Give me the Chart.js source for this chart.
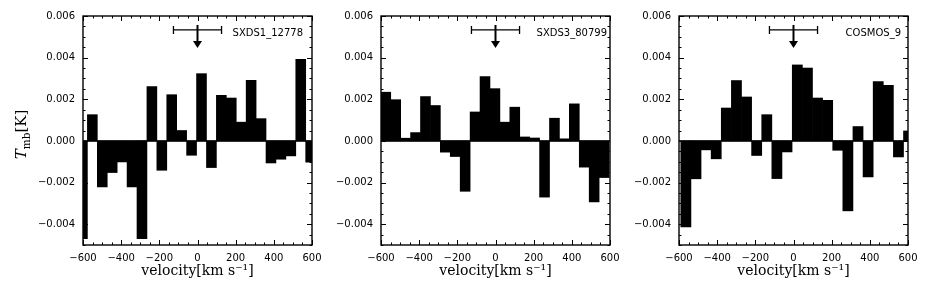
<!DOCTYPE html>
<html>
<head>
<meta charset="utf-8">
<script src="https://cdn.jsdelivr.net/npm/chart.js@4/dist/chart.umd.min.js"></script>
<style>
  html, body { margin: 0; padding: 0; background: #fff; }
  #wrap { position: relative; width: 926px; height: 290px; overflow: hidden; }
  canvas { position: absolute; top: 0; }
</style>
</head>
<body>
<div id="wrap">
  <canvas id="panel1" width="330" height="290" style="left:0px"></canvas>
  <canvas id="panel2" width="330" height="290" style="left:298px"></canvas>
  <canvas id="panel3" width="330" height="290" style="left:596px"></canvas>
</div>
<script>
var names = ['SXDS1_12778', 'SXDS3_80799', 'COSMOS_9'];

// channel centres (km/s) and T_mb (K) for each source
var vel1 = [-603, -551, -499, -447, -395, -343, -291, -239, -187, -135, -83, -31, 21, 73, 125, 177, 229, 281, 333, 385, 437, 489, 541, 593];
var tmb1 = [-0.0047, 0.00126, -0.00221, -0.00152, -0.00101, -0.00221, -0.00469, 0.00261, -0.00141, 0.00222, 0.0005, -0.00069, 0.00323, -0.00128, 0.00219, 0.00206, 0.0009, 0.00291, 0.00107, -0.00106, -0.00088, -0.00072, 0.00392, -0.00102];

var vel2 = [-575, -523, -471, -419, -367, -315, -263, -211, -159, -107, -55, -3, 49, 101, 153, 205, 257, 309, 361, 413, 465, 517, 569];
var tmb2 = [0.00234, 0.00198, 0.00013, 0.0004, 0.00213, 0.0017, -0.00054, -0.00075, -0.00242, 0.00139, 0.00309, 0.00251, 0.0009, 0.00162, 0.00019, 0.00014, -0.0027, 0.00109, 0.0001, 0.00178, -0.00126, -0.00293, -0.00176];

var vel3 = [-564, -511, -458, -405, -352, -299, -246, -193, -140, -87, -34, 20, 73, 126, 179, 232, 285, 338, 391, 444, 497, 550, 603];
var tmb3 = [-0.00413, -0.00182, -0.00043, -0.00086, 0.00158, 0.0029, 0.00211, -0.0007, 0.00126, -0.00181, -0.00053, 0.00365, 0.0035, 0.00206, 0.00195, -0.00045, -0.00336, 0.00069, -0.00173, 0.00285, 0.00267, -0.00077, 0.00048];

var xTicks = [-600, -400, -200, 0, 200, 400, 600];
var yTicks = [-0.004, -0.002, 0, 0.002, 0.004, 0.006];

// expected line position, width and upper-limit arrow
var lineCentre = 0;
var lineHalfWidth = 126;
var limitBarY = 0.00533;
var arrowTop = 0.00557;
var arrowTip = 0.00446;

function minus(s) {
  return s.replace('-', '\u2212');
}

// frame, inward ticks, zero line, annotations
var framePlugin = {
  id: 'frame',
  afterDatasetsDraw: function (chart, args, opts) {
    var ctx = chart.ctx;
    var a = chart.chartArea;
    var xs = chart.scales.x;
    var ys = chart.scales.y;
    var v, p;

    ctx.save();
    ctx.strokeStyle = '#000';
    ctx.fillStyle = '#000';

    // zero line
    ctx.lineWidth = 1.5;
    p = ys.getPixelForValue(0);
    ctx.beginPath();
    ctx.moveTo(a.left, p);
    ctx.lineTo(a.right, p);
    ctx.stroke();

    // ticks on all four sides
    ctx.lineWidth = 1;
    ctx.beginPath();
    for (v = -600; v <= 600; v += 50) {
      p = Math.round(xs.getPixelForValue(v)) + 0.5;
      var len = (v % 200 === 0) ? 5 : 2.5;
      ctx.moveTo(p, a.bottom); ctx.lineTo(p, a.bottom - len);
      ctx.moveTo(p, a.top); ctx.lineTo(p, a.top + len);
    }
    for (v = -10; v <= 12; v++) {
      p = Math.round(ys.getPixelForValue(v * 0.0005)) + 0.5;
      var l2 = (v % 4 === 0) ? 5 : 2.5;
      ctx.moveTo(a.left, p); ctx.lineTo(a.left + l2, p);
      ctx.moveTo(a.right, p); ctx.lineTo(a.right - l2, p);
    }
    ctx.stroke();

    // spines
    ctx.lineWidth = 1.4;
    ctx.strokeRect(a.left, a.top, a.right - a.left, a.bottom - a.top);

    // line width bar
    var x0 = xs.getPixelForValue(lineCentre - lineHalfWidth);
    var x1 = xs.getPixelForValue(lineCentre + lineHalfWidth);
    var xc = xs.getPixelForValue(lineCentre);
    var yb = ys.getPixelForValue(limitBarY);
    ctx.lineWidth = 1.3;
    ctx.beginPath();
    ctx.moveTo(x0, yb); ctx.lineTo(x1, yb);
    ctx.moveTo(x0, yb - 4); ctx.lineTo(x0, yb + 4);
    ctx.moveTo(x1, yb - 4); ctx.lineTo(x1, yb + 4);
    ctx.stroke();

    // upper limit arrow
    var yt = ys.getPixelForValue(arrowTop);
    var yh = ys.getPixelForValue(arrowTip);
    ctx.lineWidth = 2;
    ctx.beginPath();
    ctx.moveTo(xc, yt); ctx.lineTo(xc, yh - 6);
    ctx.stroke();
    ctx.beginPath();
    ctx.moveTo(xc - 4.5, yh - 7);
    ctx.lineTo(xc + 4.5, yh - 7);
    ctx.lineTo(xc, yh);
    ctx.closePath();
    ctx.fill();

    // source name
    ctx.font = '10px "DejaVu Sans"';
    ctx.textAlign = 'right';
    ctx.textBaseline = 'alphabetic';
    ctx.fillText(opts.name, a.right - opts.gap, a.top + 20);

    // y title with subscript
    if (opts.yTitle) {
      ctx.translate(26, (a.top + a.bottom) / 2 + 4);
      ctx.rotate(-Math.PI / 2);
      var parts = [
        {t: 'T', f: 'italic 15px "DejaVu Serif"', dy: 0},
        {t: 'mb', f: '10.5px "DejaVu Serif"', dy: 3.5},
        {t: '[K]', f: '15px "DejaVu Serif"', dy: 0}
      ];
      var total = 0;
      parts.forEach(function (q) { ctx.font = q.f; q.w = ctx.measureText(q.t).width; total += q.w; });
      var cx = -total / 2;
      ctx.textAlign = 'left';
      parts.forEach(function (q) {
        ctx.font = q.f;
        ctx.fillText(q.t, cx, q.dy);
        cx += q.w;
      });
    }
    ctx.restore();
  }
};

function makePanel(id, vel, tmb, name, gap, yTitle) {
  var points = vel.map(function (v, i) { return {x: v, y: tmb[i]}; });
  return new Chart(document.getElementById(id), {
    type: 'bar',
    data: {
      datasets: [{
        data: points,
        backgroundColor: '#000',
        borderWidth: 0,
        barPercentage: 1,
        categoryPercentage: 1,
        clip: 0
      }]
    },
    options: {
      responsive: false,
      animation: false,
      devicePixelRatio: 1,
      layout: {padding: {left: 0, right: 18, top: 16, bottom: 0}},
      plugins: {
        legend: {display: false},
        tooltip: {enabled: false},
        frame: {name: name, gap: gap, yTitle: yTitle}
      },
      scales: {
        x: {
          type: 'linear',
          min: -600,
          max: 600,
          offset: false,
          grid: {display: false, drawTicks: false},
          border: {display: false},
          afterBuildTicks: function (s) {
            s.ticks = xTicks.map(function (v) { return {value: v}; });
          },
          afterFit: function (s) {
            s.height = 45;
            s.paddingLeft = 0;
            s.paddingRight = 0;
          },
          ticks: {
            color: '#000',
            padding: 7,
            maxRotation: 0,
            autoSkip: false,
            font: {family: 'DejaVu Sans', size: 10},
            callback: function (v) { return minus(String(v)); }
          },
          title: {
            display: true,
            text: 'velocity[km s\u207B\u00B9]',
            color: '#000',
            font: {family: 'DejaVu Serif', size: 14},
            padding: {top: 0, bottom: 10}
          }
        },
        y: {
          type: 'linear',
          min: -0.005,
          max: 0.006,
          grid: {display: false, drawTicks: false},
          border: {display: false},
          afterBuildTicks: function (s) {
            s.ticks = yTicks.map(function (v) { return {value: v}; });
          },
          afterFit: function (s) {
            s.width = 83;
            s.paddingTop = 0;
            s.paddingBottom = 0;
          },
          ticks: {
            color: '#000',
            padding: 8,
            font: {family: 'DejaVu Sans', size: 10},
            callback: function (v) {
              return (v < -1e-12 ? '\u2212' : '') + Math.abs(v).toFixed(3);
            }
          }
        }
      }
    },
    plugins: [framePlugin]
  });
}

makePanel('panel1', vel1, tmb1, names[0], 9, true);
makePanel('panel2', vel2, tmb2, names[1], 3, false);
makePanel('panel3', vel3, tmb3, names[2], 7, false);
</script>
</body>
</html>
